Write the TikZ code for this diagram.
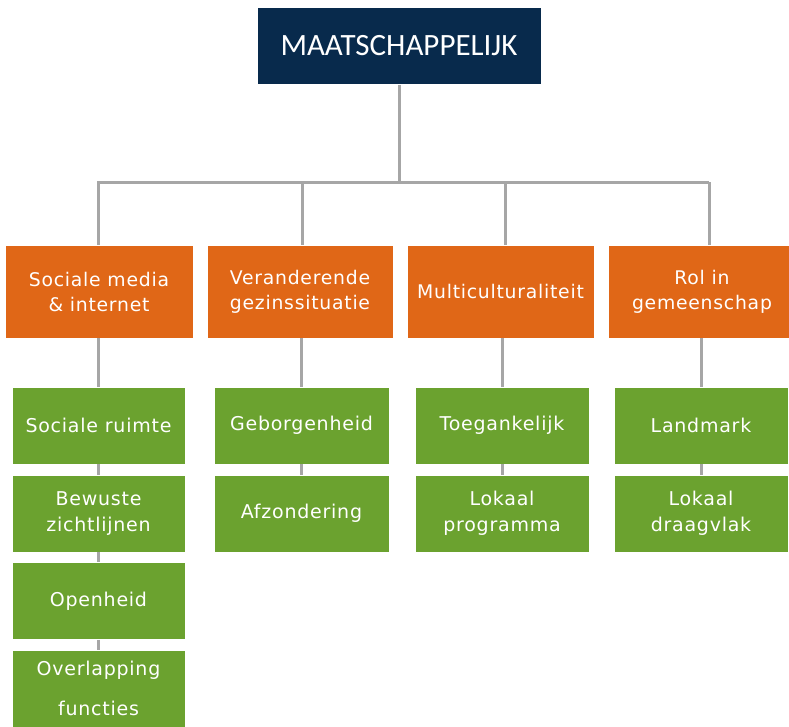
\documentclass[tikz,border=0pt]{standalone}
\usepackage{fontspec}
\setmainfont{DejaVu Sans}[LetterSpace=4]
\newfontfamily\headfont{Carlito}
\definecolor{navy}{RGB}{8,42,76}
\definecolor{tangerine}{RGB}{224,103,23}
\definecolor{leaf}{RGB}{107,162,47}
\definecolor{linegray}{RGB}{166,166,166}
\begin{document}
\begin{tikzpicture}[x=1pt,y=-1pt,
  box/.style={draw=white, line width=0.6pt, text=white, align=center, inner sep=0pt},
  headbox/.style={box, fill=navy, minimum width=284pt, minimum height=77pt, font=\headfont\fontsize{31}{36}\selectfont},
  themebox/.style={box, fill=tangerine, minimum width=187pt, minimum height=93pt, font=\fontsize{18.8}{25}\selectfont},
  itembox/.style={box, fill=leaf, minimum width=174pt, minimum height=77pt, font=\fontsize{19}{26}\selectfont},
  link/.style={draw=linegray, line width=3pt}]
\useasboundingbox (0,0) rectangle (789,726);
\begin{scope}
\clip (0,0) rectangle (789,726);
% root
\node[headbox] (root) at (399,46) {MAATSCHAPPELIJK};
\coordinate (bus) at (399,182);
% themes
\node[themebox, minimum width=188pt] (t1) at (99,291.5) {Sociale media\\\& internet};
\node[themebox, minimum width=186pt] (t2) at (300,291.5) {Veranderende\\gezinssituatie};
\node[themebox] (t3) at (500.5,291.5) {Multiculturaliteit};
\node[themebox, minimum width=188pt] (t4) at (702,291.5) {Rol in\\gemeenschap};
% column 1
\node[itembox, minimum width=173pt] (a1) at (98.5,425.5) {Sociale ruimte};
\node[itembox, minimum width=173pt] (a2) at (98.5,513.5) {Bewuste\\zichtlijnen};
\node[itembox, minimum width=173pt] (a3) at (98.5,601) {Openheid};
\node[itembox, minimum width=173pt, font=\fontsize{19}{40}\selectfont] (a4) at (98.5,688.5) {Overlapping\\functies};
% column 2
\node[itembox, minimum width=175pt] (b1) at (301.5,425.5) {Geborgenheid};
\node[itembox, minimum width=175pt] (b2) at (301.5,513.5) {Afzondering};
% column 3
\node[itembox] (c1) at (502,425.5) {Toegankelijk};
\node[itembox] (c2) at (502,513.5) {Lokaal\\programma};
% column 4
\node[itembox] (d1) at (701,425.5) {Landmark};
\node[itembox] (d2) at (701,513.5) {Lokaal\\draagvlak};
\end{scope}
% connectors: root to the bus, bus down to the themes
\path[link] (root.south) -- (bus);
\path[link] ([xshift=-0.4pt]t1.north) -- ([xshift=-0.4pt]t1.north |- bus) -- ([xshift=7pt]t4.north |- bus);
\path[link] ([xshift=2pt]t2.north) -- ([xshift=2pt]t2.north |- bus);
\path[link] ([xshift=4.5pt]t3.north) -- ([xshift=4.5pt]t3.north |- bus);
\path[link] ([xshift=7pt]t4.north) -- ([xshift=7pt]t4.north |- bus);
% connectors: themes down through their items
\path[link] (a1.north |- t1.south) -- (a1.north);
\path[link] (a1.south) -- (a2.north);
\path[link] (a2.south) -- (a3.north);
\path[link] (a3.south) -- (a4.north);
\path[link] (b1.north |- t2.south) -- (b1.north);
\path[link] (b1.south) -- (b2.north);
\path[link] (c1.north |- t3.south) -- (c1.north);
\path[link] (c1.south) -- (c2.north);
\path[link] (d1.north |- t4.south) -- (d1.north);
\path[link] (d1.south) -- (d2.north);
\end{tikzpicture}
\end{document}
